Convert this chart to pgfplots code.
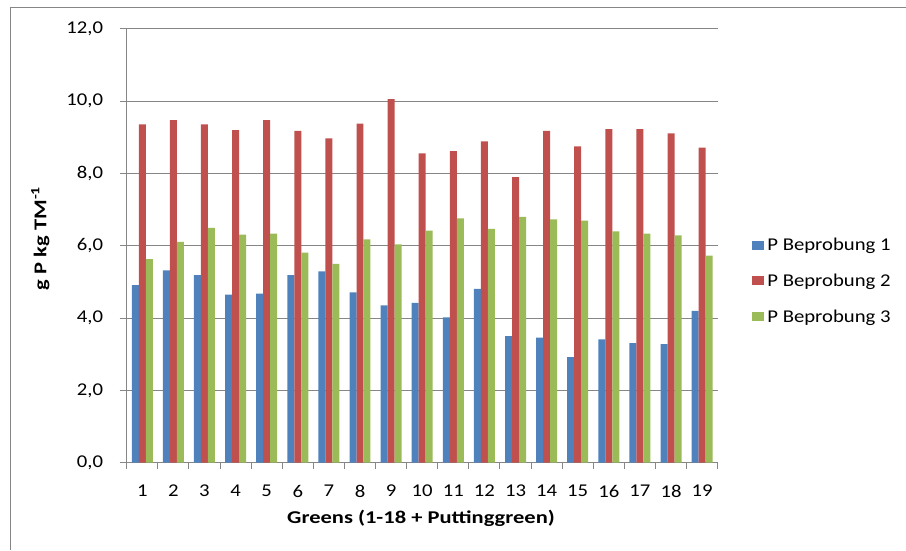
\documentclass[border=0pt]{standalone}
\usepackage{pgfplots}
\pgfplotsset{compat=1.18}
\usepackage{fontspec}
\setmainfont{Carlito}[FakeStretch=1.15, BoldFeatures={FakeStretch=1.25}]

\definecolor{pblue}{HTML}{4F81BD}
\definecolor{pred}{HTML}{C0504D}
\definecolor{pgreen}{HTML}{9BBB59}
\definecolor{gridgray}{HTML}{868686}

\begin{document}
\begin{tikzpicture}
\useasboundingbox (0pt,0pt) rectangle (679.5pt,412.5pt);
% chart frame (top and left edges)
\draw[gridgray, line width=0.75pt] (7.5pt,0pt) -- (7.5pt,406.5pt) -- (679.5pt,406.5pt);
\begin{axis}[
  at={(95.03pt,65.48pt)}, anchor=south west,
  scale only axis, width=443.25pt, height=325.3pt,
  ybar=0pt, bar width=0.225,
  xmin=0.5, xmax=19.5, ymin=0, ymax=12,
  xtick={1,...,19}, ytick={0,2,...,12},
  xticklabels={1,2,3,4,5,6,7,8,9,10,11,12,13,14,15,16,17,18,19},
  minor xtick={0.5,1.5,...,19.5},
  axis lines*=left,
  axis line style={draw=gridgray, line width=0.75pt},
  tick style={draw=gridgray, line width=0.75pt},
  major x tick style={draw=none},
  tick align=outside,
  major tick length=5.25pt, minor tick length=4.5pt,
  ymajorgrids, major grid style={draw=gridgray, line width=0.75pt},
  /pgf/number format/.cd, fixed, fixed zerofill, precision=1, use comma, assume math mode=true,
  /pgfplots/.cd,
  tick label style={font=\fontsize{13.5}{15}\selectfont, text=black},
  yticklabel style={xshift=-9pt},
  xticklabel style={yshift=-8pt},
  xlabel={\textbf{Greens (1-18 + Puttinggreen)}},
  ylabel={\textbf{g P kg TM\textsuperscript{-1}}},
  xlabel style={at={(axis description cs:0.498,-0.1399)}, anchor=base, inner sep=0pt, font=\fontsize{13.5}{15}\selectfont},
  ylabel style={at={(axis description cs:-0.1358,0.5174)}, anchor=base, inner sep=0pt, font=\fontsize{13.5}{15}\selectfont},
  legend style={at={(axis description cs:1.0586,0.419)}, anchor=west, draw=none, fill=none,
    inner sep=0pt, outer sep=0pt, row sep=11pt,
    font=\fontsize{13.5}{15}\selectfont,
    nodes={inner sep=2.5pt}},
  legend cell align=left,
  legend image code/.code={\fill[#1] (0pt,-3.4pt) rectangle (8.8pt,3.4pt);},
]
\addplot[fill=pblue, draw=none] coordinates {
  (1,4.91) (2,5.32) (3,5.19) (4,4.65) (5,4.68) (6,5.19) (7,5.29) (8,4.71) (9,4.35) (10,4.42)
  (11,4.02) (12,4.81) (13,3.50) (14,3.46) (15,2.92) (16,3.41) (17,3.31) (18,3.28) (19,4.20)};
\addplot[fill=pred, draw=none] coordinates {
  (1,9.36) (2,9.48) (3,9.36) (4,9.20) (5,9.48) (6,9.18) (7,8.97) (8,9.38) (9,10.06) (10,8.56)
  (11,8.62) (12,8.89) (13,7.90) (14,9.18) (15,8.75) (16,9.23) (17,9.23) (18,9.11) (19,8.72)};
\addplot[fill=pgreen, draw=none] coordinates {
  (1,5.63) (2,6.11) (3,6.50) (4,6.31) (5,6.34) (6,5.81) (7,5.50) (8,6.18) (9,6.04) (10,6.42)
  (11,6.76) (12,6.47) (13,6.80) (14,6.73) (15,6.70) (16,6.40) (17,6.34) (18,6.29) (19,5.73)};
\legend{P Beprobung 1, P Beprobung 2, P Beprobung 3}
\end{axis}
\end{tikzpicture}
\end{document}
